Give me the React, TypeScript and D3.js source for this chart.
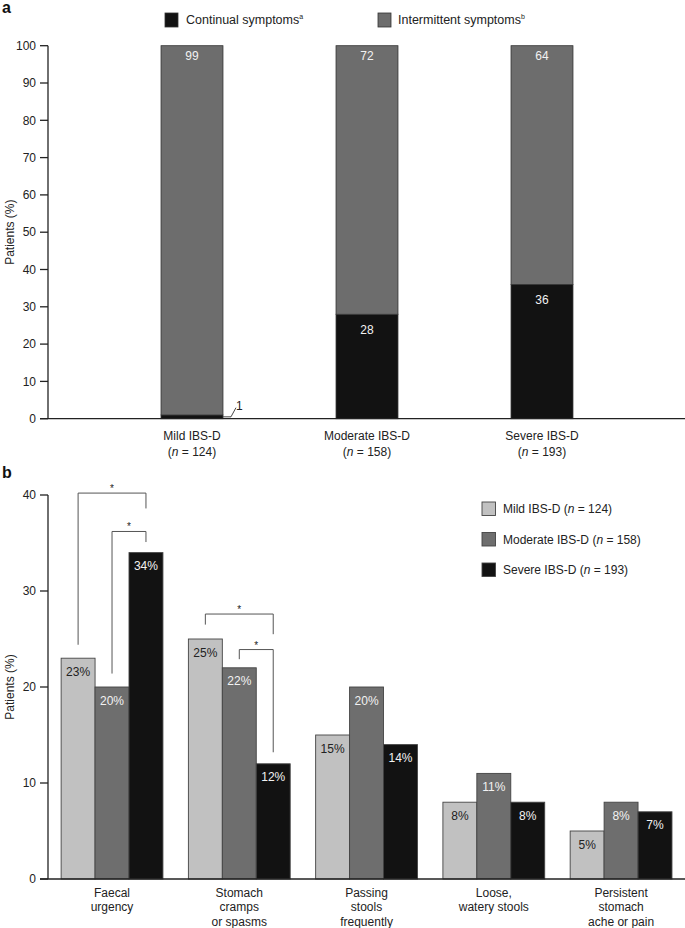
import React from "react";
import * as d3 from "d3";

// panel a: continual vs intermittent symptoms by severity
const severityNames = ["Mild IBS-D", "Moderate IBS-D", "Severe IBS-D"];
const severityNs = [124, 158, 193];
const continualPct = [1, 28, 36];
const intermittentPct = [99, 72, 64];

// panel b: most bothersome symptom by severity
const symptomLines = [
  ["Faecal", "urgency"],
  ["Stomach", "cramps", "or spasms"],
  ["Passing", "stools", "frequently"],
  ["Loose,", "watery stools"],
  ["Persistent", "stomach", "ache or pain"],
];
const mildPct = [23, 25, 15, 8, 5];
const moderatePct = [20, 22, 20, 11, 8];
const severePct = [34, 12, 14, 8, 7];

// significance brackets (data units)
const brackets = [
  { group: 0, from: 0, to: 2, top: 40.2, fromEnd: 24.4, toEnd: 38.6 },
  { group: 0, from: 1, to: 2, top: 36.2, fromEnd: 21.4, toEnd: 35.1 },
  { group: 1, from: 0, to: 2, top: 27.6, fromEnd: 26.5, toEnd: 25.5 },
  { group: 1, from: 1, to: 2, top: 23.9, fromEnd: 22.9, toEnd: 13.2 },
];

const W = 685;
const H = 928;
const FONT = "'Liberation Sans', Arial, Helvetica, sans-serif";
const INK = "#222";
const seriesFill = ["#c1c1c1", "#6e6e6e", "#121212"];
const seriesText = ["#222", "#f2f2f2", "#f2f2f2"];

function NLabel({ n }: { n: number }) {
  return (
    <>
      (<tspan fontStyle="italic">n</tspan> = {n})
    </>
  );
}

export default function App() {
  // ---- panel a scales
  const yA = d3.scaleLinear().domain([0, 100]).range([418.7, 45.7]);
  const xA = d3
    .scaleBand<string>()
    .domain(severityNames)
    .range([104.5, 629.5])
    .paddingInner(0.646)
    .paddingOuter(0.323);

  const rowsA = severityNames.map((name, i) => ({
    name,
    continual: continualPct[i],
    intermittent: intermittentPct[i],
  }));
  const stacked = d3.stack<any>().keys(["continual", "intermittent"])(rowsA);
  const stackFill: Record<string, string> = {
    continual: "#121212",
    intermittent: "#6d6d6d",
  };

  // ---- panel b scales
  const yB = d3.scaleLinear().domain([0, 40]).range([879, 495]);
  const xB = d3
    .scaleBand<number>()
    .domain(symptomLines.map((_, i) => i))
    .range([48.4, 684.7])
    .paddingInner(0.2)
    .paddingOuter(0.1);
  const xInner = d3
    .scaleBand<number>()
    .domain([0, 1, 2])
    .range([0, xB.bandwidth()]);
  const seriesB = [mildPct, moderatePct, severePct];
  const barCenter = (g: number, s: number) =>
    (xB(g) as number) + (xInner(s) as number) + xInner.bandwidth() / 2;

  return (
    <svg
      width={W}
      height={H}
      style={{ position: "absolute", left: 0, top: 0, background: "#fff" }}
      fontFamily={FONT}
    >
      {/* ================= panel a ================= */}
      <text x={2} y={13} fontSize={16} fontWeight="bold" fill="#111">
        a
      </text>

      {/* legend a */}
      <g fontSize={12.5} fill={INK}>
        <rect x={165} y={13} width={13} height={14} fill="#121212" stroke="#333" strokeWidth={0.8} />
        <text x={186} y={24}>
          Continual symptoms
          <tspan fontSize={7} dy={-5}>a</tspan>
        </text>
        <rect x={378} y={13} width={13} height={14} fill="#6d6d6d" stroke="#333" strokeWidth={0.8} />
        <text x={398} y={24}>
          Intermittent symptoms
          <tspan fontSize={7} dy={-5}>b</tspan>
        </text>
      </g>

      {/* bars a */}
      {stacked.map((layer) =>
        layer.map((d, i) => (
          <rect
            key={layer.key + i}
            x={xA(severityNames[i])}
            y={yA(d[1])}
            width={xA.bandwidth()}
            height={yA(d[0]) - yA(d[1])}
            fill={stackFill[layer.key]}
            stroke="#333"
            strokeWidth={0.8}
          />
        ))
      )}

      {/* value labels a */}
      <g fontSize={12} textAnchor="middle" fill="#f2f2f2">
        {severityNames.map((name, i) => {
          const cx = (xA(name) as number) + xA.bandwidth() / 2;
          const top = continualPct[i] + intermittentPct[i];
          return (
            <g key={name}>
              <text x={cx} y={yA(top) + 14}>
                {intermittentPct[i]}
              </text>
              {continualPct[i] >= 5 && (
                <text x={cx} y={yA(continualPct[i]) + 20}>
                  {continualPct[i]}
                </text>
              )}
            </g>
          );
        })}
      </g>
      {/* small-value callout */}
      {severityNames.map((name, i) => {
        if (continualPct[i] >= 5) return null;
        const rx = (xA(name) as number) + xA.bandwidth();
        const y0 = yA(continualPct[i] / 2);
        return (
          <g key={"call" + name}>
            <path
              d={`M${rx},${y0} H${rx + 8} L${rx + 13},${yA(0) - 11}`}
              fill="none"
              stroke="#333"
              strokeWidth={0.9}
            />
            <text x={rx + 13} y={yA(0) - 9} fontSize={12} fill={INK}>
              {continualPct[i]}
            </text>
          </g>
        );
      })}

      {/* axes a */}
      <g stroke="#222" strokeWidth={1.3}>
        <line x1={48} x2={48} y1={yA(100)} y2={yA(0)} />
        <line x1={40} x2={685} y1={yA(0)} y2={yA(0)} />
        {yA.ticks(10).map((t) => (
          <line key={t} x1={40} x2={48} y1={yA(t)} y2={yA(t)} />
        ))}
      </g>
      <g fontSize={12} fill={INK} textAnchor="end">
        {yA.ticks(10).map((t) => (
          <text key={t} x={36} y={yA(t)} dy="0.35em">
            {t}
          </text>
        ))}
      </g>
      <text
        transform={`translate(14,${(yA(0) + yA(100)) / 2}) rotate(-90)`}
        textAnchor="middle"
        fontSize={12}
        fill={INK}
      >
        Patients (%)
      </text>
      <g fontSize={12} fill={INK} textAnchor="middle">
        {severityNames.map((name, i) => {
          const cx = (xA(name) as number) + xA.bandwidth() / 2;
          return (
            <g key={"xl" + name}>
              <text x={cx} y={yA(0) + 21}>
                {name}
              </text>
              <text x={cx} y={yA(0) + 37}>
                <NLabel n={severityNs[i]} />
              </text>
            </g>
          );
        })}
      </g>

      {/* ================= panel b ================= */}
      <text x={2} y={478} fontSize={16} fontWeight="bold" fill="#111">
        b
      </text>

      {/* bars b */}
      {seriesB.map((vals, s) =>
        vals.map((v, g) => (
          <rect
            key={`b${s}-${g}`}
            x={(xB(g) as number) + (xInner(s) as number)}
            y={yB(v)}
            width={xInner.bandwidth()}
            height={yB(0) - yB(v)}
            fill={seriesFill[s]}
            stroke="#444"
            strokeWidth={0.9}
          />
        ))
      )}
      <g fontSize={12} textAnchor="middle">
        {seriesB.map((vals, s) =>
          vals.map((v, g) => (
            <text key={`t${s}-${g}`} x={barCenter(g, s)} y={yB(v) + 17.5} fill={seriesText[s]}>
              {v}%
            </text>
          ))
        )}
      </g>

      {/* brackets */}
      {brackets.map((b, i) => {
        const x1 = barCenter(b.group, b.from);
        const x2 = barCenter(b.group, b.to);
        const yt = yB(b.top);
        return (
          <g key={"br" + i}>
            <path
              d={`M${x1},${yB(b.fromEnd)} V${yt} H${x2} V${yB(b.toEnd)}`}
              fill="none"
              stroke="#555"
              strokeWidth={1}
            />
            <text x={(x1 + x2) / 2} y={yt - 1} fontSize={10} textAnchor="middle" fill={INK}>
              *
            </text>
          </g>
        );
      })}

      {/* axes b */}
      <g stroke="#222" strokeWidth={1.3}>
        <line x1={48} x2={48} y1={yB(40)} y2={yB(0)} />
        <line x1={40} x2={685} y1={yB(0)} y2={yB(0)} />
        {yB.ticks(4).map((t) => (
          <line key={t} x1={40} x2={48} y1={yB(t)} y2={yB(t)} />
        ))}
      </g>
      <g fontSize={12} fill={INK} textAnchor="end">
        {yB.ticks(4).map((t) => (
          <text key={t} x={36} y={yB(t)} dy="0.35em">
            {t}
          </text>
        ))}
      </g>
      <text
        transform={`translate(14,${(yB(0) + yB(40)) / 2}) rotate(-90)`}
        textAnchor="middle"
        fontSize={12}
        fill={INK}
      >
        Patients (%)
      </text>
      <g fontSize={12} fill={INK} textAnchor="middle">
        {symptomLines.map((lines, g) => {
          const cx = (xB(g) as number) + xB.bandwidth() / 2;
          return (
            <text key={"sx" + g} x={cx} y={yB(0) + 18}>
              {lines.map((ln, k) => (
                <tspan key={k} x={cx} dy={k === 0 ? 0 : 14.3}>
                  {ln}
                </tspan>
              ))}
            </text>
          );
        })}
      </g>

      {/* legend b */}
      <g fontSize={12} fill={INK}>
        {severityNames.map((name, s) => {
          const cy = 509 + s * 30.5;
          return (
            <g key={"lg" + name}>
              <rect x={482} y={cy - 7} width={13.5} height={13.5} fill={seriesFill[s]} stroke="#444" strokeWidth={0.9} />
              <text x={503} y={cy + 4.3}>
                {name} <NLabel n={severityNs[s]} />
              </text>
            </g>
          );
        })}
      </g>
    </svg>
  );
}
